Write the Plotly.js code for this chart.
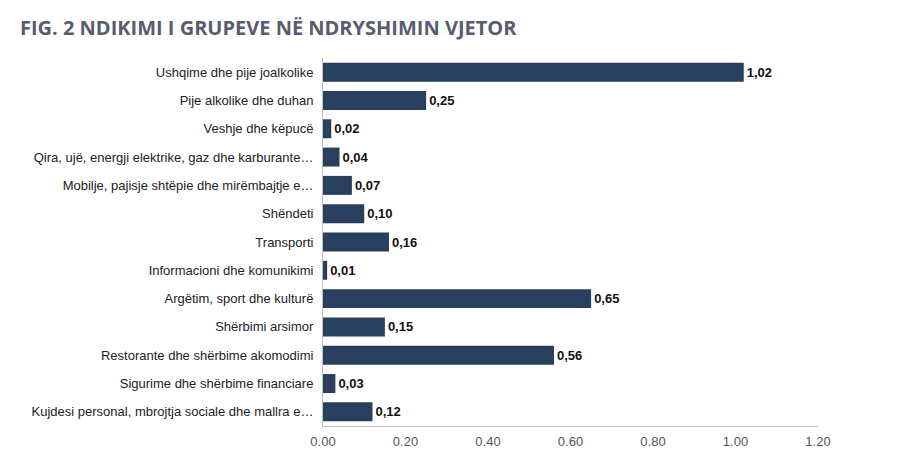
<!DOCTYPE html>
<html>
<head>
<meta charset="utf-8">
<script src="https://cdn.plot.ly/plotly-3.0.1.min.js"></script>
<style>html,body{margin:0;padding:0;background:#fff;}#chart{width:900px;height:471px;}</style>
</head>
<body>
<div id="chart"></div>
<script>
const categories = [
  "Ushqime dhe pije joalkolike",
  "Pije alkolike dhe duhan",
  "Veshje dhe këpucë",
  "Qira, ujë, energji elektrike, gaz dhe karburante…",
  "Mobilje, pajisje shtëpie dhe mirëmbajtje e…",
  "Shëndeti",
  "Transporti",
  "Informacioni dhe komunikimi",
  "Argëtim, sport dhe kulturë",
  "Shërbimi arsimor",
  "Restorante dhe shërbime akomodimi",
  "Sigurime dhe shërbime financiare",
  "Kujdesi personal, mbrojtja sociale dhe mallra e…"
];
const values = [1.02, 0.25, 0.02, 0.04, 0.07, 0.10, 0.16, 0.01, 0.65, 0.15, 0.56, 0.03, 0.12];
const tickValues = [0, 0.2, 0.4, 0.6, 0.8, 1.0, 1.2];
const tickLabels = ["0.00", "0.20", "0.40", "0.60", "0.80", "1.00", "1.20"];
const titleText = "FIG. 2 NDIKIMI I GRUPEVE NË NDRYSHIMIN VJETOR";

const labels = values.map(v => v.toFixed(2).replace('.', ','));

const trace = {
  type: 'bar',
  orientation: 'h',
  x: values,
  y: categories,
  marker: {color: '#283f5e'},
  text: labels,
  textposition: 'outside',
  cliponaxis: false,
  textfont: {family: 'Liberation Sans, Arial, sans-serif', size: 13, color: '#111111', weight: 'bold'},
  hoverinfo: 'skip'
};

const layout = {
  width: 900,
  height: 471,
  paper_bgcolor: '#ffffff',
  plot_bgcolor: '#ffffff',
  margin: {l: 323, r: 82, t: 58, b: 45},
  bargap: 0.33,
  showlegend: false,
  title: {
    text: '<b>' + titleText + '</b>',
    x: 0, xref: 'container', xanchor: 'left',
    y: 1, yref: 'container', yanchor: 'top',
    pad: {t: 21, l: 20},
    font: {family: 'Open Sans, sans-serif', size: 20, color: '#575d6e'}
  },
  xaxis: {
    range: [0, 1.2],
    tickvals: tickValues,
    ticktext: tickLabels,
    showgrid: false,
    zeroline: false,
    showline: true,
    linecolor: '#c0c0c0',
    linewidth: 1,
    ticks: '',
    ticklabelstandoff: 3,
    tickfont: {family: 'Liberation Sans, Arial, sans-serif', size: 13, color: '#555555'},
    fixedrange: true
  },
  yaxis: {
    type: 'category',
    autorange: 'reversed',
    showgrid: false,
    zeroline: false,
    showline: true,
    linecolor: '#c0c0c0',
    linewidth: 1,
    ticks: '',
    ticklabelstandoff: 6,
    tickfont: {family: 'Liberation Sans, Arial, sans-serif', size: 13, color: '#222222'},
    fixedrange: true
  }
};

Plotly.newPlot('chart', [trace], layout, {displayModeBar: false, staticPlot: true});
</script>
</body>
</html>
